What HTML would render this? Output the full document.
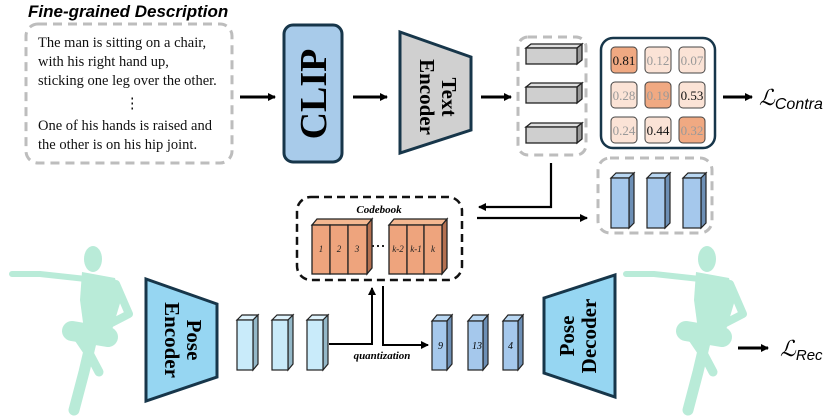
<!DOCTYPE html>
<html><head><meta charset="utf-8"><style>
html,body{margin:0;padding:0;background:#fff;}
svg{display:block;}
.serif{font-family:"Liberation Serif",serif;}
.sans{font-family:"Liberation Sans",sans-serif;}
</style></head><body>
<svg width="831" height="417" viewBox="0 0 831 417" xmlns="http://www.w3.org/2000/svg">
<defs>
<marker id="ah" markerWidth="8" markerHeight="8" refX="7" refY="4" orient="auto" markerUnits="userSpaceOnUse">
<path d="M0,0 L8,4 L0,8 z" fill="#000"/>
</marker>
<g id="fig">
<g stroke="#b9ebd8" stroke-linecap="round" stroke-linejoin="round" fill="none">
<polyline points="12,274 40,274 86,279" stroke-width="6"/>
<polyline points="116,284 129,314 100,329" stroke-width="8"/>
<polyline points="92,338 84,372 74,410" stroke-width="11"/>
<line x1="72" y1="331" x2="108" y2="337" stroke-width="20"/>
<polyline points="73,330 90,355 99,372" stroke-width="9"/>
</g>
<g fill="#b9ebd8">
<ellipse cx="93" cy="259" rx="9" ry="13"/>
<path d="M82,272 L115,278 L121,300 L112,330 L84,330 L80,300 z"/>
</g>
</g>
</defs>

<text x="28" y="17" class="sans" font-size="17" font-weight="bold" font-style="italic">Fine-grained Description</text>
<rect x="26" y="24" width="206" height="139" rx="12" fill="none" stroke="#bdbdbd" stroke-width="3" stroke-dasharray="9,6"/>
<g class="serif" font-size="14.5" fill="#111">
<text x="38" y="47">The man is sitting on a chair,</text>
<text x="38" y="66">with his right hand up,</text>
<text x="38" y="85">sticking one leg over the other.</text>
<text x="125" y="108">⋮</text>
<text x="38" y="130">One of his hands is raised and</text>
<text x="38" y="149">the other is on his hip joint.</text>
</g>
<line x1="240" y1="97" x2="275" y2="97" stroke="#000" stroke-width="3" marker-end="url(#ah)"/>

<rect x="284" y="25" width="58" height="137" rx="9" fill="#a8cbea" stroke="#17364a" stroke-width="3"/>
<text transform="translate(326,94) rotate(-90)" text-anchor="middle" class="serif" font-size="38" font-weight="bold">CLIP</text>
<line x1="353" y1="97" x2="387" y2="97" stroke="#000" stroke-width="3" marker-end="url(#ah)"/>

<polygon points="400,32 471,57 471,130 400,153" fill="#d0d0d0" stroke="#17364a" stroke-width="3"/>
<text transform="translate(442,97) rotate(90)" text-anchor="middle" class="serif" font-size="21" font-weight="bold">Text</text>
<text transform="translate(420,97) rotate(90)" text-anchor="middle" class="serif" font-size="21" font-weight="bold">Encoder</text>
<line x1="481" y1="97" x2="511" y2="97" stroke="#000" stroke-width="3" marker-end="url(#ah)"/>

<rect x="518" y="37" width="68" height="118" rx="10" fill="none" stroke="#bdbdbd" stroke-width="3" stroke-dasharray="9,6"/>
<g stroke="#222" stroke-width="1.3">
<g id="gb"><polygon points="526,48 531,44 582,44 577,48" fill="#e0e0e0"/><polygon points="577,48 582,44 582,60 577,64" fill="#9a9a9a"/><rect x="526" y="48" width="51" height="16" fill="#cfcfcf"/></g>
<use href="#gb" y="39"/>
<use href="#gb" y="79"/>
</g>

<rect x="601" y="38" width="114" height="110" rx="12" fill="#fff" stroke="#17364a" stroke-width="2.5"/>
<g stroke="#444" stroke-width="1">
<rect x="611" y="47" width="26" height="26" rx="4" fill="#f0a982"/>
<rect x="645" y="47" width="26" height="26" rx="4" fill="#fbe3d6"/>
<rect x="679" y="47" width="26" height="26" rx="4" fill="#fbe3d6"/>
<rect x="611" y="82" width="26" height="26" rx="4" fill="#fbe3d6"/>
<rect x="645" y="82" width="26" height="26" rx="4" fill="#f0a982"/>
<rect x="679" y="82" width="26" height="26" rx="4" fill="#fbe3d6"/>
<rect x="611" y="117" width="26" height="26" rx="4" fill="#fbe3d6"/>
<rect x="645" y="117" width="26" height="26" rx="4" fill="#fbe3d6"/>
<rect x="679" y="117" width="26" height="26" rx="4" fill="#f0a982"/>
</g>
<g class="serif" font-size="13" text-anchor="middle">
<text x="624" y="65" fill="#111">0.81</text><text x="658" y="65" fill="#999">0.12</text><text x="692" y="65" fill="#999">0.07</text>
<text x="624" y="100" fill="#999">0.28</text><text x="658" y="100" fill="#999">0.19</text><text x="692" y="100" fill="#111">0.53</text>
<text x="624" y="135" fill="#999">0.24</text><text x="658" y="135" fill="#111">0.44</text><text x="692" y="135" fill="#999">0.32</text>
</g>
<line x1="723" y1="97" x2="752" y2="97" stroke="#000" stroke-width="3" marker-end="url(#ah)"/>
<text x="759" y="105" class="serif" font-size="22" font-style="italic">ℒ<tspan font-size="16" dy="4" class="sans">Contra</tspan></text>

<polyline points="551,163 551,207 479,207" fill="none" stroke="#000" stroke-width="2.2" marker-end="url(#ah)"/>
<line x1="477" y1="218" x2="587" y2="218" stroke="#000" stroke-width="2.2" marker-end="url(#ah)"/>

<rect x="598" y="158" width="114" height="75" rx="12" fill="none" stroke="#bdbdbd" stroke-width="3" stroke-dasharray="9,6"/>
<g stroke="#222" stroke-width="1.2">
<g id="bb"><polygon points="611,178 616,173 634,173 629,178" fill="#b9d7f2"/><polygon points="629,178 634,173 634,223 629,228" fill="#6d8fb5"/><rect x="611" y="178" width="18" height="50" fill="#a5c8ec"/></g>
<use href="#bb" x="36"/>
<use href="#bb" x="72"/>
</g>

<rect x="297" y="197" width="165" height="83" rx="14" fill="none" stroke="#111" stroke-width="2.5" stroke-dasharray="8,5"/>
<text x="379" y="213" text-anchor="middle" class="serif" font-size="11" font-weight="bold" font-style="italic">Codebook</text>
<g stroke="#222" stroke-width="1.3" class="serif" font-size="9" font-style="italic" text-anchor="middle">
<polygon points="312,225 317,219 372,219 367,225" fill="#f4b891"/>
<polygon points="367,225 372,219 372,268 367,274" fill="#b47050"/>
<rect x="312" y="225" width="18" height="49" fill="#eea47d"/><rect x="330" y="225" width="18" height="49" fill="#eea47d"/><rect x="348" y="225" width="19" height="49" fill="#eea47d"/>
<polygon points="389,225 394,219 447,219 442,225" fill="#f4b891"/>
<polygon points="442,225 447,219 447,268 442,274" fill="#b47050"/>
<rect x="389" y="225" width="18" height="49" fill="#eea47d"/><rect x="407" y="225" width="17" height="49" fill="#eea47d"/><rect x="424" y="225" width="18" height="49" fill="#eea47d"/>
<g stroke="none" fill="#222"><text x="321" y="252">1</text><text x="339" y="252">2</text><text x="357" y="252">3</text><text x="398" y="252">k-2</text><text x="416" y="252">k-1</text><text x="433" y="252">k</text></g>
</g>
<line x1="372" y1="246" x2="387" y2="246" stroke="#222" stroke-width="2" stroke-dasharray="2,3"/>

<polyline points="329,344 372,344 372,288" fill="none" stroke="#000" stroke-width="2" marker-end="url(#ah)"/>
<polyline points="383,286 383,345 428,345" fill="none" stroke="#000" stroke-width="2" marker-end="url(#ah)"/>
<text x="382" y="359" text-anchor="middle" class="serif" font-size="11" font-weight="bold" font-style="italic">quantization</text>

<g stroke="#222" stroke-width="1.2" class="serif" font-size="10" font-style="italic">
<g id="db"><polygon points="432,321 437,315 452,315 447,321" fill="#b9d7f2"/><polygon points="447,321 452,315 452,364 447,370" fill="#6d8fb5"/><rect x="432" y="321" width="15" height="49" fill="#a5c8ec"/></g>
<use href="#db" x="36"/>
<use href="#db" x="71"/>
<text x="438" y="349" stroke="none">9</text><text x="472" y="349" stroke="none">13</text><text x="508" y="349" stroke="none">4</text>
</g>

<g stroke="#222" stroke-width="1.2">
<g id="lb"><polygon points="237,320 242,315 258,315 253,320" fill="#dff3fc"/><polygon points="253,320 258,315 258,364 253,370" fill="#94b8c8"/><rect x="237" y="320" width="16" height="50" fill="#c9ebfa"/></g>
<use href="#lb" x="35"/>
<use href="#lb" x="70"/>
</g>

<polygon points="146,279 217,304 217,377 146,401" fill="#96d6f2" stroke="#17364a" stroke-width="3"/>
<text transform="translate(187,340) rotate(90)" text-anchor="middle" class="serif" font-size="21" font-weight="bold">Pose</text>
<text transform="translate(165,340) rotate(90)" text-anchor="middle" class="serif" font-size="21" font-weight="bold">Encoder</text>

<polygon points="544,298 615,275 615,397 544,373" fill="#96d6f2" stroke="#17364a" stroke-width="3"/>
<text transform="translate(574,336) rotate(-90)" text-anchor="middle" class="serif" font-size="21" font-weight="bold">Pose</text>
<text transform="translate(596,336) rotate(-90)" text-anchor="middle" class="serif" font-size="21" font-weight="bold">Decoder</text>

<use href="#fig"/>
<use href="#fig" x="614"/>

<line x1="738" y1="348" x2="768" y2="348" stroke="#000" stroke-width="3" marker-end="url(#ah)"/>
<text x="780" y="356" class="serif" font-size="22" font-style="italic">ℒ<tspan font-size="15" dy="4" class="sans">Rec</tspan></text>
</svg>
</body></html>
